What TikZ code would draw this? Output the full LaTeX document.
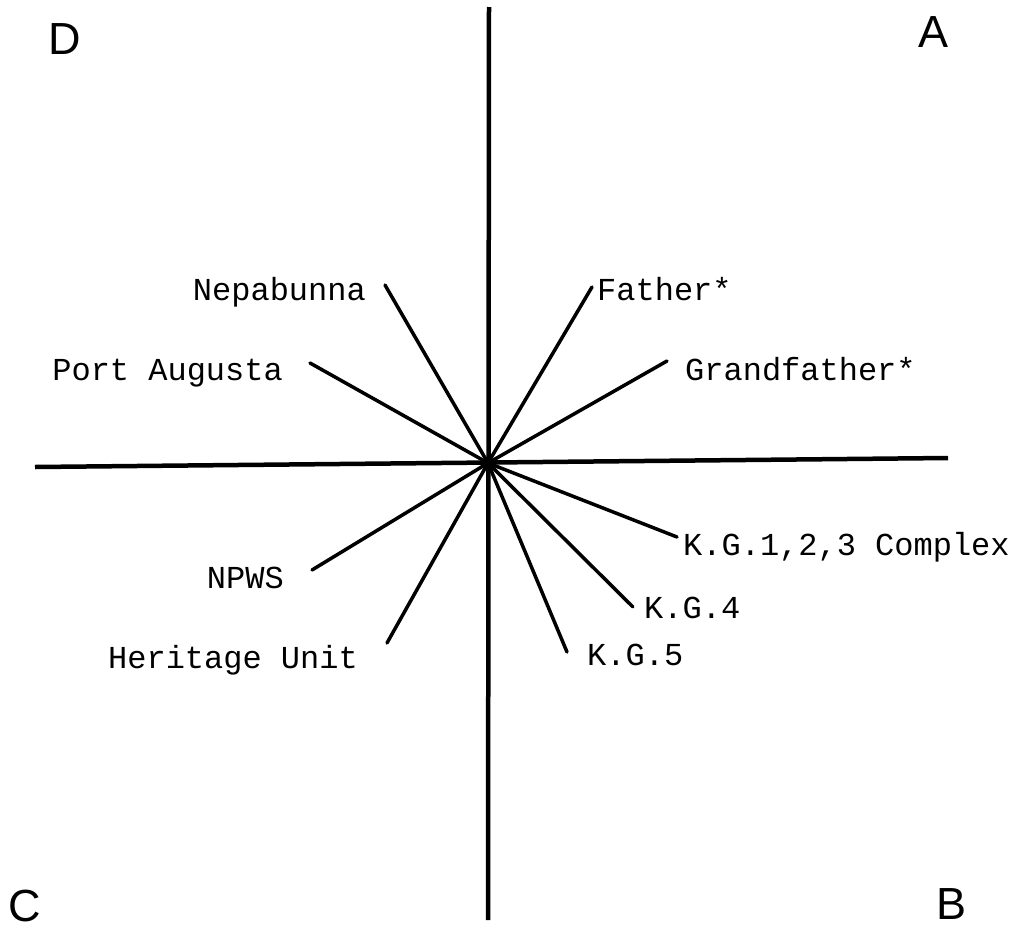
\documentclass[tikz,border=0pt]{standalone}
\usepackage{fontspec}
\setmainfont{Liberation Sans}
\newfontfamily\labfont{Liberation Mono}
\begin{document}
\begin{tikzpicture}[x=1pt,y=-1pt,
  axis/.style={line width=4.5pt},
  spoke/.style={line width=3.5pt,line cap=round},
  lab/.style={inner sep=0pt,font=\labfont\fontsize{32}{32}\selectfont},
  corner/.style={inner sep=0pt,font=\fontsize{45}{45}\selectfont}]
\useasboundingbox (0,0) rectangle (1023,937);
\coordinate (O) at (488,463);
% axes
\coordinate (top) at (489,7);
\coordinate (bot) at (488,920);
\coordinate (left) at (35,467);
\coordinate (right) at (948,458);
\draw[axis] (top) -- (bot);
\draw[axis] (left) -- (right);
% spoke ends
\coordinate (eNep) at (385,285);
\coordinate (eFat) at (592,287);
\coordinate (ePort) at (310,363);
\coordinate (eGra) at (667,361);
\coordinate (eKG1) at (677,537);
\coordinate (eKG4) at (633,607);
\coordinate (eKG5) at (567,652);
\coordinate (eNPWS) at (312,570);
\coordinate (eHer) at (387,643);
\foreach \e in {eNep,eFat,ePort,eGra,eKG1,eKG4,eKG5,eNPWS,eHer}
  \draw[spoke] (O) -- (\e);
\fill (O) circle (6pt);
% labels
\node[lab,anchor=base east] (nep) at (366,300) {Nepabunna};
\node[lab,anchor=base west] (fat) at (597,300) {Father*};
\node[lab,anchor=base east] (port) at (283,380) {Port Augusta};
\node[lab,anchor=base west] (gra) at (685,380) {Grandfather*};
\node[lab,anchor=base west] (kg1) at (683,555) {K.G.1,2,3 Complex};
\node[lab,anchor=base west] (kg4) at (644,618) {K.G.4};
\node[lab,anchor=base west] (kg5) at (587,665) {K.G.5};
\node[lab,anchor=base east] (npws) at (284,588) {NPWS};
\node[lab,anchor=base east] (her) at (358,668) {Heritage Unit};
% corners
\node[corner] (D) at (65,39) {D};
\node[corner] (A) at (933,32) {A};
\node[corner] (C) at (25,906) {C};
\node[corner] (B) at (951,904) {B};
\end{tikzpicture}
\end{document}
